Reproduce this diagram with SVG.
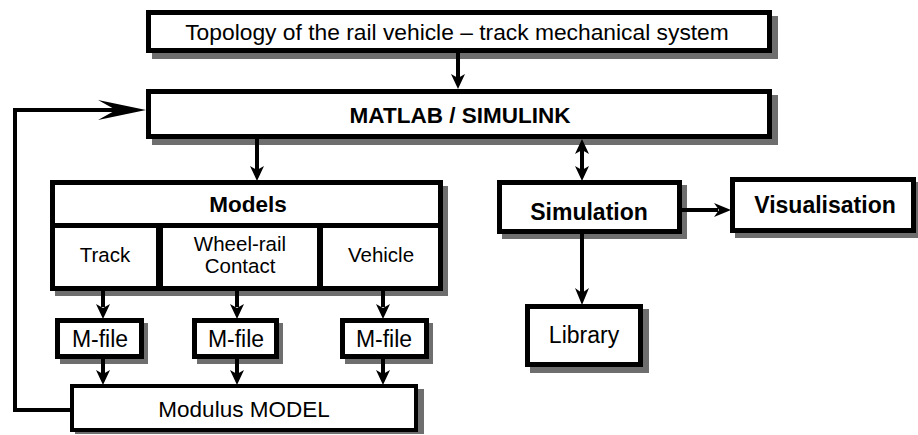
<svg xmlns="http://www.w3.org/2000/svg" width="918" height="435" viewBox="0 0 918 435">
<defs>
<style>
.sh{fill:#6e6e6e}
.bx{fill:#fff;stroke:#000;stroke-width:5}
.bt{fill:#fff;stroke:#000;stroke-width:4}
.t{font-family:"Liberation Sans",Arial,sans-serif;fill:#000;text-anchor:middle}
.b{font-weight:bold}
.ln{stroke:#000;stroke-width:4;fill:none}
.ah{fill:#000}
</style>
</defs>
<rect width="918" height="435" fill="#fff"/>
<g id="topology">
<rect class="sh" x="152" y="16" width="626" height="43"/>
<rect class="bx" x="148.5" y="12.5" width="621" height="38"/>
<text class="t" x="457" y="40" font-size="22.8">Topology of the rail vehicle – track mechanical system</text>
</g>
<g id="matlab">
<rect class="sh" x="152" y="95" width="626" height="50"/>
<rect class="bx" x="148.5" y="91.5" width="621" height="45"/>
<text class="t b" x="460" y="123" font-size="22.5">MATLAB / SIMULINK</text>
</g>
<g id="models">
<rect class="sh" x="55" y="186" width="393" height="110"/>
<rect class="bx" x="52.5" y="182.5" width="388" height="43"/>
<text class="t b" x="248" y="212" font-size="22.5">Models</text>
</g>
<g id="track">
<rect class="bx" x="52.5" y="225.5" width="106" height="63"/>
<text class="t" x="105" y="262" font-size="20.5">Track</text>
</g>
<g id="wheelrail">
<rect class="bx" x="160.5" y="225.5" width="159" height="63"/>
<text class="t" x="240" y="251" font-size="20.5">Wheel-rail</text>
<text class="t" x="240" y="273" font-size="20.5">Contact</text>
</g>
<g id="vehicle">
<rect class="bx" x="320.5" y="225.5" width="120" height="63"/>
<text class="t" x="381" y="262" font-size="20.5">Vehicle</text>
</g>
<g id="mfile1">
<rect class="sh" x="60" y="323" width="88" height="41"/>
<rect class="bx" x="57.5" y="320.5" width="84" height="36"/>
<text class="t" x="100" y="347" font-size="23">M-file</text>
</g>
<g id="mfile2">
<rect class="sh" x="197" y="323" width="86" height="41"/>
<rect class="bx" x="194.5" y="320.5" width="82" height="36"/>
<text class="t" x="236" y="347" font-size="23">M-file</text>
</g>
<g id="mfile3">
<rect class="sh" x="345" y="323" width="88" height="41"/>
<rect class="bx" x="342.5" y="320.5" width="84" height="36"/>
<text class="t" x="384" y="347" font-size="23">M-file</text>
</g>
<g id="modulus">
<rect class="sh" x="75" y="389" width="349" height="45"/>
<rect class="bt" x="72" y="386" width="344" height="44"/>
<text class="t" x="244" y="417" font-size="22.5">Modulus MODEL</text>
</g>
<g id="simulation">
<rect class="sh" x="502" y="185" width="185" height="54"/>
<rect class="bx" x="499.5" y="182.5" width="180" height="49"/>
<text class="t b" x="589" y="220" font-size="23">Simulation</text>
</g>
<g id="visualisation">
<rect class="sh" x="735" y="182" width="183" height="56"/>
<rect class="bx" x="732.5" y="179.5" width="181" height="51"/>
<text class="t b" x="825" y="213" font-size="23">Visualisation</text>
</g>
<g id="library">
<rect class="sh" x="530" y="309" width="119" height="64"/>
<rect class="bx" x="527.5" y="306.5" width="113" height="58"/>
<text class="t" x="584" y="343" font-size="23">Library</text>
</g>
<g id="connectors">
<line class="ln" x1="458" y1="53" x2="458" y2="78"/>
<path class="ah" d="M458,89 L451,74 L458,78 L465,74 Z"/>
<line class="ln" x1="257" y1="139" x2="257" y2="170"/>
<path class="ah" d="M257,181 L250,166 L257,170 L264,166 Z"/>
<line class="ln" x1="582" y1="149" x2="582" y2="170"/>
<path class="ah" d="M582,139 L575,154 L582,150 L589,154 Z"/>
<path class="ah" d="M582,181 L575,166 L582,170 L589,166 Z"/>
<line class="ln" x1="582" y1="234" x2="582" y2="293"/>
<path class="ah" d="M582,305 L575,288 L582,293 L589,288 Z"/>
<line class="ln" x1="682" y1="210" x2="718" y2="210"/>
<path class="ah" d="M731,210 L714,203 L719,210 L714,217 Z"/>
<line class="ln" x1="103" y1="290" x2="103" y2="307"/>
<path class="ah" d="M103,319 L96,304 L103,308 L110,304 Z"/>
<line class="ln" x1="237" y1="290" x2="237" y2="307"/>
<path class="ah" d="M237,319 L230,304 L237,308 L244,304 Z"/>
<line class="ln" x1="383" y1="290" x2="383" y2="307"/>
<path class="ah" d="M383,319 L376,304 L383,308 L390,304 Z"/>
<line class="ln" x1="103" y1="359" x2="103" y2="374"/>
<path class="ah" d="M103,385 L96,370 L103,374 L110,370 Z"/>
<line class="ln" x1="237" y1="359" x2="237" y2="374"/>
<path class="ah" d="M237,385 L230,370 L237,374 L244,370 Z"/>
<line class="ln" x1="383" y1="359" x2="383" y2="374"/>
<path class="ah" d="M383,385 L376,370 L383,374 L390,370 Z"/>
<polyline class="ln" points="70,410 15,410 15,110 118,110"/>
<path class="ah" d="M146,110 L98,100 L116,110 L98,120 Z"/>
</g>
</svg>
